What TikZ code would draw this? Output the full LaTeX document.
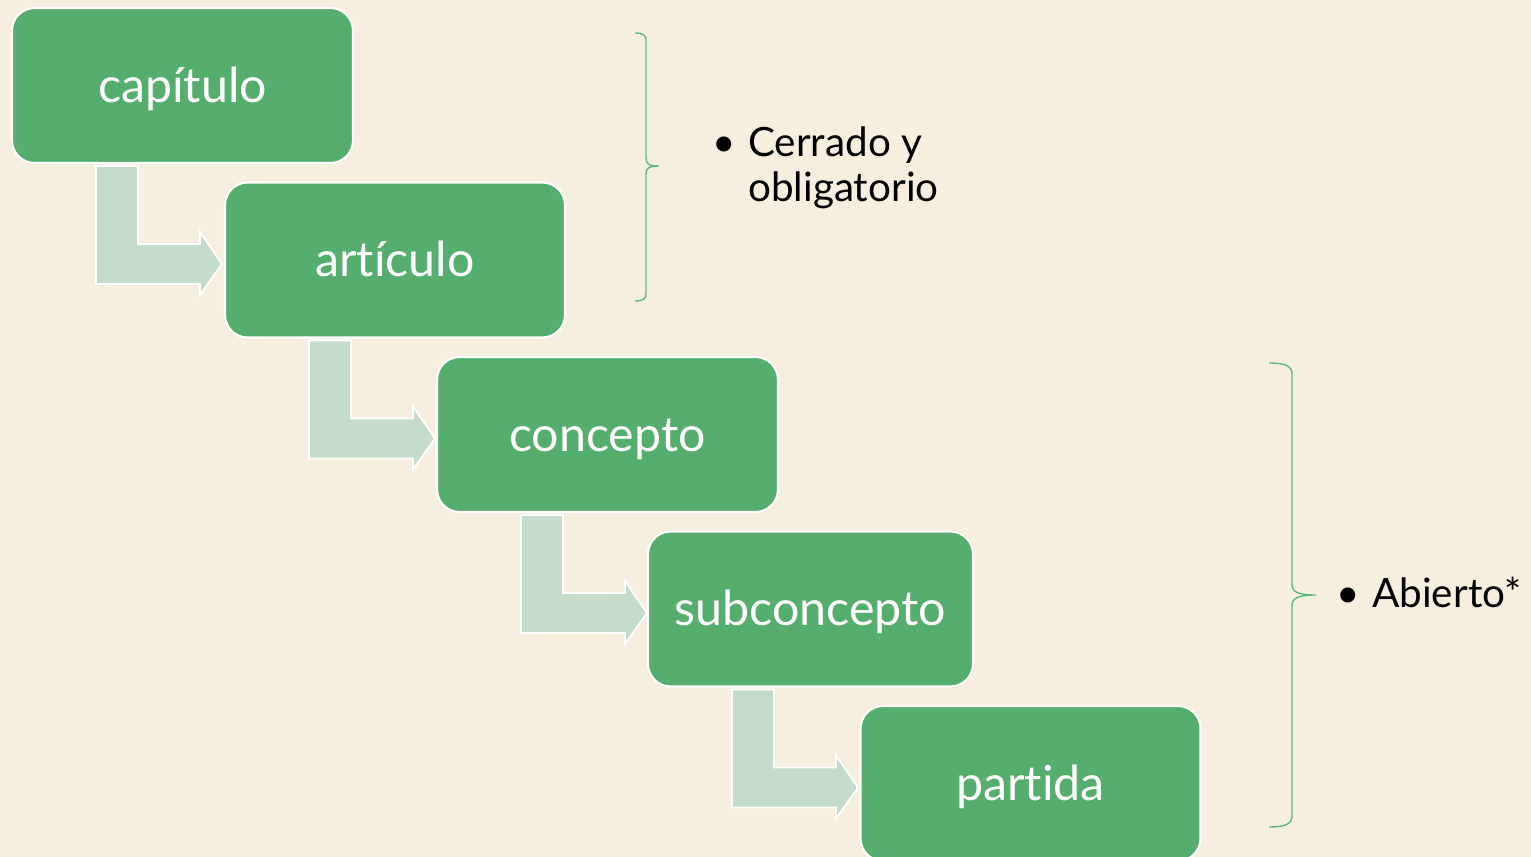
\documentclass[tikz,border=0pt]{standalone}
\usepackage{fontspec}
\setmainfont{Lato}[Ligatures=NoCommon]
\usepackage{tikz}
\usetikzlibrary{calc}
\usetikzlibrary{math}
\definecolor{fondo}{HTML}{F6EFDF}
\definecolor{verde}{HTML}{55AE6E}
\definecolor{flecha}{HTML}{C5DCCB}
\definecolor{llave}{HTML}{5CBB7B}

\begin{document}
\begin{tikzpicture}[x=0.02cm,y=-0.02cm,
    caja/.style={fill=verde, draw=white, line width=1.2pt, rounded corners=0.45cm,
        minimum height=3.1cm, text=white, inner sep=0pt,
        text height=22pt, text depth=3pt,
        font=\fontsize{27.5}{30}\selectfont},
    texto/.style={anchor=base west, inner sep=0pt, font=\fontsize{23}{26}\selectfont}]
            \tikzmath{\dx = 212; \dy = 174.5;}
            \fill[fondo] (0,0) rectangle (1531,857);
            \useasboundingbox (0,0) rectangle (1531,857);
            \foreach \i/\t/\cx/\w in {0/capítulo/182.5/6.82,1/artículo/395/6.8,2/concepto/607.5/6.82,
                                      3/subconcepto/810.5/6.5,4/partida/1030.5/6.8} {
                \node[caja, minimum width=\w cm] (b\i) at (\cx,{85.5+\i*\dy}) {\t};
            }
            \foreach \u/\v in {b0/b1,b1/b2,b2/b3,b3/b4} {
                \coordinate (o) at (\u.south west);
                \draw[fill=flecha, draw=white, line width=1pt]
                    ($(o)+(85,2)$) -- ($(o)+(127,2)$) -- ($(o)+(127,80)$) -- ($(o)+(189,80)$)
                    -- ($(o)+(189,68)$) -- ($(o)+(211,100)$) -- ($(o)+(189,131)$)
                    -- ($(o)+(189,120)$) -- ($(o)+(85,120)$) -- cycle;
            }
            % llaves
            \draw[llave, line width=0.8pt] (635,33) .. controls (643,33) and (646,35) .. (646,40)
                -- (646,158) .. controls (646,164) and (649,166) .. (659,166)
                .. controls (649,166) and (646,168) .. (646,174)
                -- (646,294) .. controls (646,299) and (643,301) .. (635,301);
            \draw[llave, line width=0.8pt] (1269,363) .. controls (1285,363) and (1292,366) .. (1292,374)
                -- (1292,584) .. controls (1292,591) and (1296,595) .. (1316,595)
                .. controls (1296,595) and (1292,599) .. (1292,606)
                -- (1292,816) .. controls (1292,824) and (1285,827) .. (1269,827);
            % textos
            \node[texto] (v1) at (712,157) {\textbullet};
            \node[texto] (cerrado) at (748,157) {Cerrado y};
            \node[texto] (oblig) at (748,202) {obligatorio};
            \node[texto] (v2) at (1336,607) {\textbullet};
            \node[texto] (abierto) at (1372,607) {Abierto*};
        \end{tikzpicture}
\end{document}
